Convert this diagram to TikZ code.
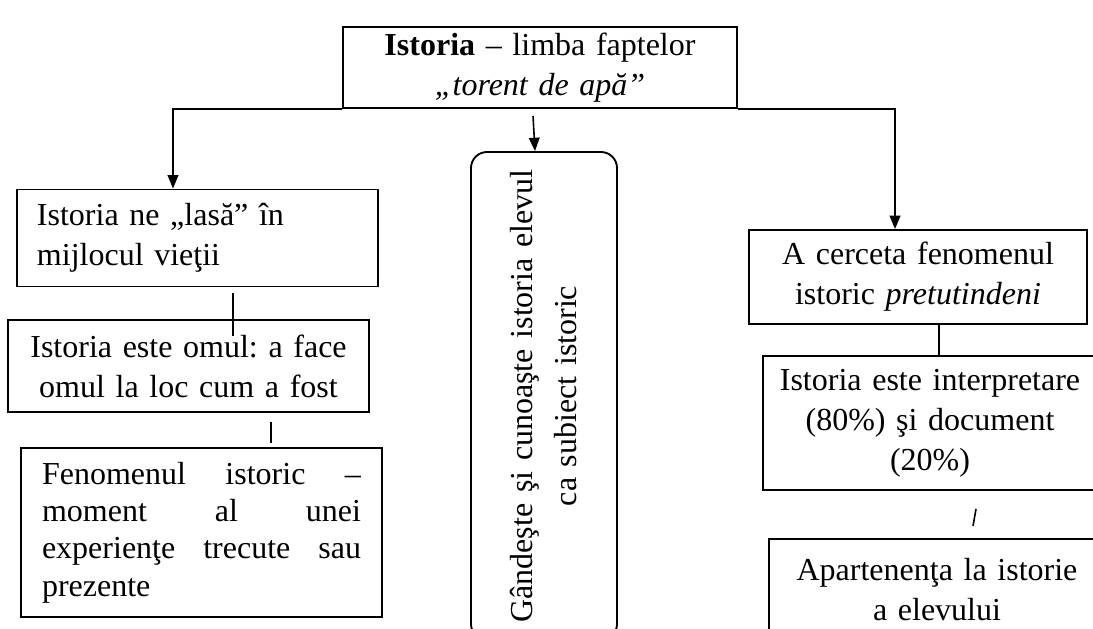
\documentclass[tikz,border=0pt]{standalone}
\usepackage{fontspec}
\setmainfont{Liberation Serif}
\frenchspacing
\usetikzlibrary{arrows.meta,calc}

\begin{document}
\begin{tikzpicture}[x=0.375pt, y=-0.375pt]
\tikzset{boite/.style={draw, line width=0.7pt, inner xsep=7.5pt, inner ysep=0pt, font=\fontsize{12}{15}\selectfont}}
\tikzset{fleche/.style={-{Triangle[length=5pt,width=4pt]}, line width=0.6pt}}
\useasboundingbox (0, 0) rectangle (1093, 628);
\clip (0, 0) rectangle (1093, 628);
\node[boite, minimum width=147.75pt, minimum height=30.4pt, text width=130pt, align=center] (T) at (540, 67.5) {\textbf{Istoria} – limba faptelor\\ \textit{„torent de apă”}};
\node[boite, minimum width=135.4pt, minimum height=36.4pt, text width=120.4pt, align=left] (L1) at (197.5, 238) {Istoria ne „lasă” în\\ mijlocul vieţii};
\node[boite, minimum width=135.4pt, minimum height=34.5pt, text width=131pt, inner xsep=2pt, align=center] (L2) at (188.5, 366) {Istoria este omul: a face\\ omul la loc cum a fost};
\node[boite, minimum width=135.4pt, minimum height=63.4pt, text width=119.6pt, inner xsep=7.9pt, align=left, font=\fontsize{12}{14}\selectfont] (L3) at (201.5, 532.5) {Fenomenul\hfill istoric\hfill –\\ moment\hfill al\hfill unei\\ experienţe\hfill trecute\hfill sau\\ prezente};
\node[boite, rounded corners=6pt, rotate=90, minimum width=183pt, minimum height=54.75pt, text width=174pt, inner xsep=0pt, align=center, font=\fontsize{12}{16.5}\selectfont] (M) at (544, 396) {Gândeşte şi cunoaşte istoria elevul\\ ca subiect istoric};
\node[boite, minimum width=126.75pt, minimum height=35.25pt, text width=120pt, inner xsep=0pt, align=center] (R1) at (918, 277) {A cerceta fenomenul\\ istoric \textit{pretutindeni}};
\node[boite, minimum width=125.25pt, minimum height=50.25pt, text width=120pt, inner xsep=0pt, align=center] (R2) at (930, 423) {Istoria este interpretare\\ (80\%) şi document\\ (20\%)};
\node[boite, minimum width=126pt, minimum height=38.25pt, text width=120pt, inner xsep=0pt, align=center] (R3) at (937, 590) {Apartenenţa la istorie\\ a elevului};
\draw[fleche] (T.south west) -| ($(L1.north)+(-24.5, 0)$);
\draw[fleche] (T.south east) -| ($(R1.north)+(-23, 0)$);
\draw[fleche] ($(T.south)+(-7, 7)$) -- ($(M.east)+(-9, 0)$);
\draw[line width=0.6pt] ($(L1.south)+(35.5, 6)$) -- ($(L2.north)+(44.5, 17)$);
\draw[line width=0.6pt] ($(L2.south)+(82.5, 9)$) -- ($(L3.north)+(69.5, -4)$);
\draw[line width=0.6pt] ($(R1.south)+(21, 0)$) -- ($(R2.north)+(9, 2)$);
\draw[line width=0.6pt] ($(R2.south)+(46, 18)$) -- ($(R3.north)+(36, -12)$);
\end{tikzpicture}
\end{document}
